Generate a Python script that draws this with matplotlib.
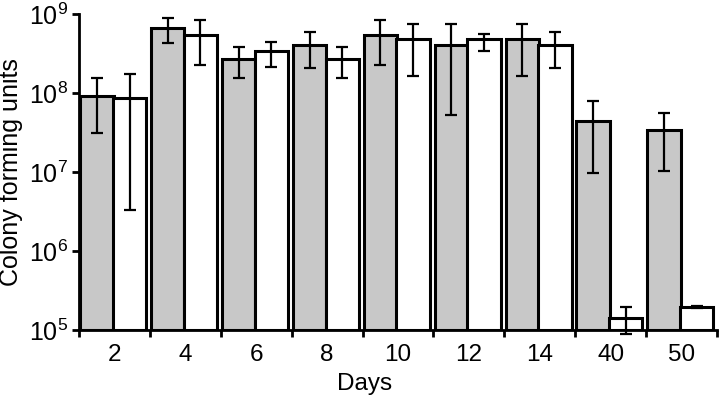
import matplotlib
matplotlib.use("Agg")
import matplotlib.pyplot as plt
import numpy as np
from matplotlib.ticker import FixedLocator, NullFormatter, FixedFormatter

plt.rcParams['font.family'] = ['Liberation Sans', 'DejaVu Sans']
plt.rcParams['mathtext.fontset'] = 'custom'
plt.rcParams['mathtext.rm'] = 'Liberation Sans'
plt.rcParams['mathtext.it'] = 'Liberation Sans'
plt.rcParams['mathtext.bf'] = 'Liberation Sans'

days = ["2", "4", "6", "8", "10", "12", "14", "40", "50"]
grey_vals = [9.2e7, 6.65e8, 2.7e8, 4.05e8, 5.37e8, 4.05e8, 4.8e8, 4.47e7, 3.37e7]
grey_err_hi = [1.53e8, 8.9e8, 3.8e8, 6.0e8, 8.4e8, 7.47e8, 7.47e8, 7.85e7, 5.54e7]
grey_err_lo = [3.1e7, 4.3e8, 1.53e8, 2.06e8, 2.28e8, 5.3e7, 1.63e8, 9.7e6, 1.02e7]
white_vals = [8.7e7, 5.4e8, 3.4e8, 2.7e8, 4.8e8, 4.8e8, 4.05e8, 1.41e5, 1.95e5]
white_err_hi = [1.73e8, 8.3e8, 4.47e8, 3.8e8, 7.47e8, 5.64e8, 6.0e8, 1.94e5, 2.0e5]
white_err_lo = [3.3e6, 2.28e8, 2.15e8, 1.53e8, 1.63e8, 3.4e8, 2.06e8, 8.9e4, 1.9e5]

fig = plt.figure(figsize=(7.2, 3.96), dpi=100)
ax = fig.add_axes([0.1097, 0.1667, 0.8861, 0.7979])

n = len(days)
x = np.arange(n)
w = 0.47
gx = x + 0.018 + w / 2
wx = x + 0.018 + w + w / 2 - 0.01

base = 1e5
g = np.array(grey_vals); wv = np.array(white_vals)
ax.bar(gx, g - base, width=w, bottom=base, color='#c8c8c8', edgecolor='black', linewidth=2.2, zorder=2)
ax.bar(wx, wv - base, width=w, bottom=base, color='white', edgecolor='black', linewidth=2.2, zorder=2)

ge = [g - np.array(grey_err_lo), np.array(grey_err_hi) - g]
we = [wv - np.array(white_err_lo), np.array(white_err_hi) - wv]
ax.errorbar(gx, g, yerr=ge, fmt='none', ecolor='black', elinewidth=1.6, capsize=4.6, capthick=1.6, zorder=3)
eb = ax.errorbar(wx, wv, yerr=we, fmt='none', ecolor='black', elinewidth=1.6, capsize=4.6, capthick=1.6, zorder=3)
for art in eb.get_children():
    art.set_clip_on(False)

ax.set_yscale('log')
ax.set_ylim(1e5, 1e9)
ax.set_xlim(0, n)
ax.set_yticks([1e5, 1e6, 1e7, 1e8, 1e9])
ax.set_yticklabels([r'$\mathregular{10^{%d}}$' % k for k in range(5, 10)], fontsize=18)
ax.yaxis.set_minor_locator(FixedLocator([]))
ax.xaxis.set_major_locator(FixedLocator(np.arange(n + 1)))
ax.xaxis.set_major_formatter(NullFormatter())
ax.xaxis.set_minor_locator(FixedLocator(x + 0.5))
ax.xaxis.set_minor_formatter(FixedFormatter(days))
ax.tick_params(axis='x', which='minor', length=0, labelsize=17.5, pad=10)
ax.tick_params(axis='x', which='major', length=5, width=2, direction='out')
ax.tick_params(axis='y', which='major', length=5, width=2, direction='out', pad=3)

for s in ['top', 'right']:
    ax.spines[s].set_visible(False)
for s in ['left', 'bottom']:
    ax.spines[s].set_linewidth(2)

ax.set_xlabel('Days', fontsize=17.5, labelpad=5)
ax.xaxis.set_label_coords(0.447, -0.135, transform=ax.transAxes)
ax.xaxis.label.set_verticalalignment('top')
ax.set_ylabel('Colony forming units', fontsize=18, labelpad=4)

fig.savefig('out.png', dpi=100)
